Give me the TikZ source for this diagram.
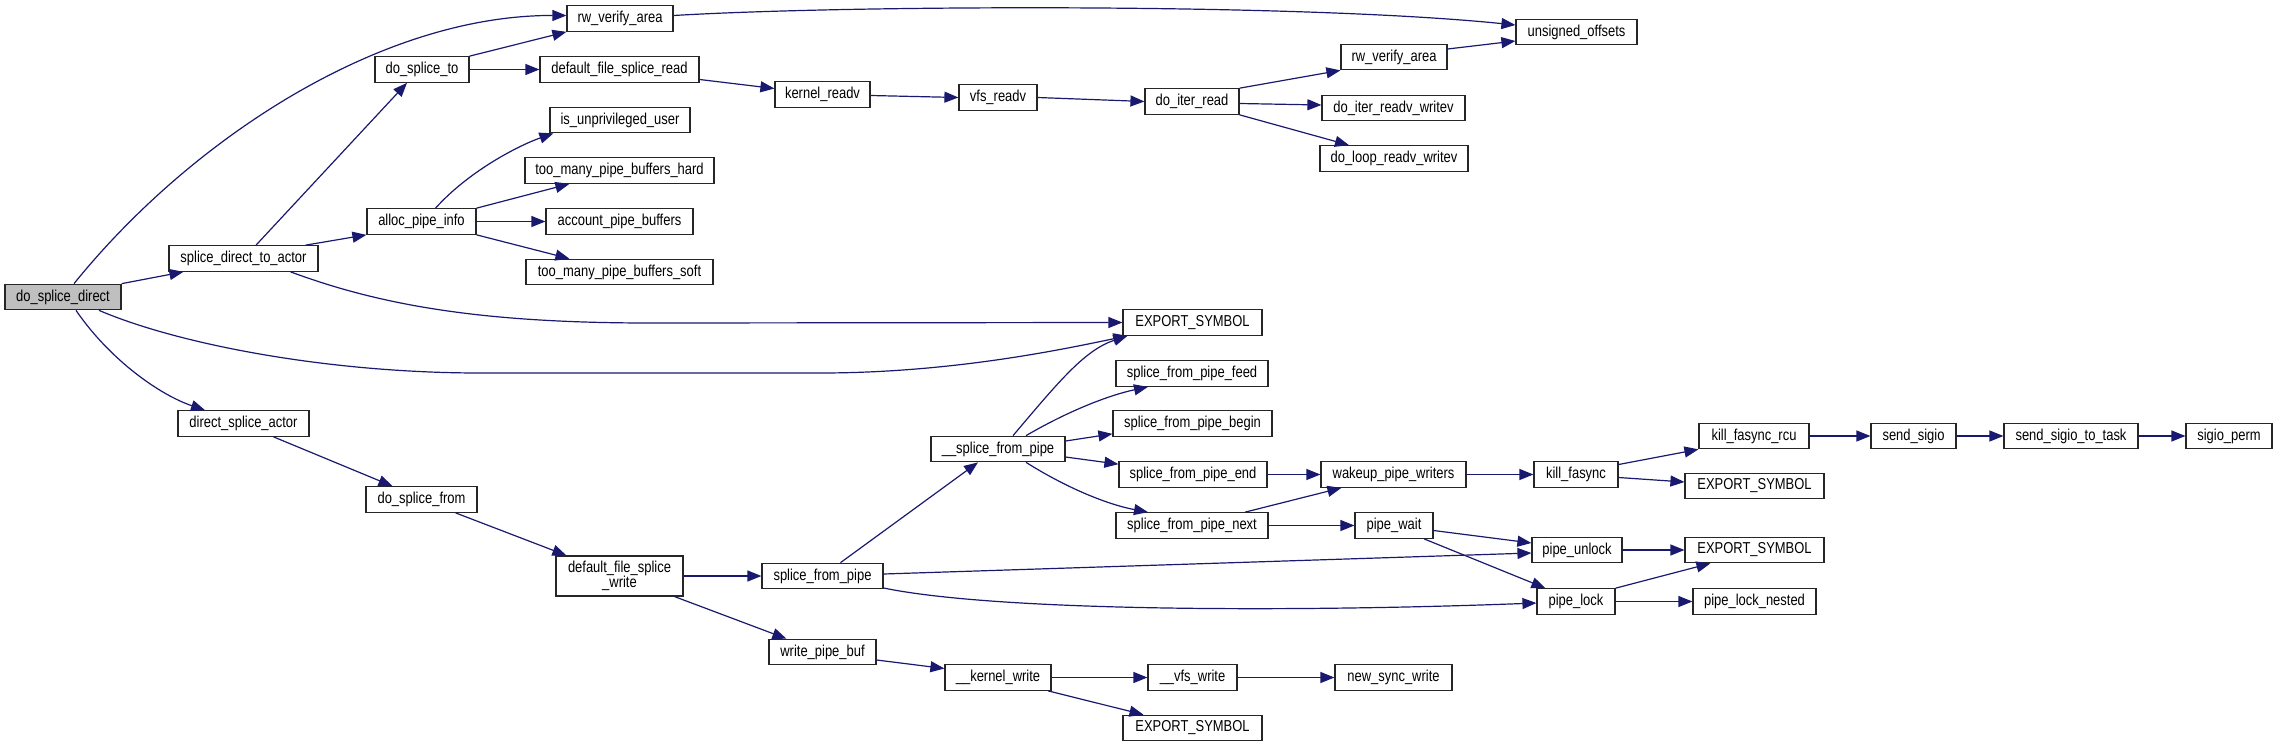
\documentclass[tikz,border=0pt]{standalone}
\usepackage{fontspec}
\setmainfont{Liberation Sans}[FakeStretch=0.82]
\usetikzlibrary{arrows.meta}
\definecolor{edgeblue}{HTML}{191970}
\definecolor{rootgray}{HTML}{BFBFBF}
\newcommand\fnfont{\fontsize{15.8}{15}\selectfont}
\tikzset{
  fn/.style={draw=black!85, line width=1.2pt, fill=white, minimum height=25.5pt, inner sep=0pt, font=\fnfont},
  call/.style={draw=edgeblue, line width=1.2pt, -{Triangle[length=14pt,width=11pt]}, fill=none},
}
\begin{document}
\begin{tikzpicture}[x=1pt,y=-1pt]
\useasboundingbox[fill=white] (0,0) rectangle (2277,747);
% nodes
\node[fn, minimum width=116pt, fill=rootgray] (dsd) at (63,297) {do\_splice\_direct};
\node[fn, minimum width=149pt] (sdta) at (243.5,258.5) {splice\_direct\_to\_actor};
\node[fn, minimum width=94pt] (dst) at (422,69.5) {do\_splice\_to};
\node[fn, minimum width=106pt] (rwva1) at (620,18.5) {rw\_verify\_area};
\node[fn, minimum width=159pt] (dfsr) at (619.5,69.5) {default\_file\_splice\_read};
\node[fn, minimum width=140pt] (iuu) at (620,120) {is\_unprivileged\_user};
\node[fn, minimum width=189pt] (tmpbh) at (619.5,170.5) {too\_many\_pipe\_buffers\_hard};
\node[fn, minimum width=147pt] (apb) at (619.5,221.5) {account\_pipe\_buffers};
\node[fn, minimum width=187pt] (tmpbs) at (619.5,272) {too\_many\_pipe\_buffers\_soft};
\node[fn, minimum width=109pt] (api) at (421.5,221.5) {alloc\_pipe\_info};
\node[fn, minimum width=139pt] (es1) at (1192.5,322.5) {EXPORT\_SYMBOL};
\node[fn, minimum width=95pt] (krv) at (822.5,94.5) {kernel\_readv};
\node[fn, minimum width=78pt] (vrv) at (998,97.5) {vfs\_readv};
\node[fn, minimum width=94pt] (dir) at (1192,101.5) {do\_iter\_read};
\node[fn, minimum width=106pt] (rwva2) at (1394,57) {rw\_verify\_area};
\node[fn, minimum width=143pt] (dirw) at (1393.5,108) {do\_iter\_readv\_writev};
\node[fn, minimum width=148pt] (dlrw) at (1394,158.5) {do\_loop\_readv\_writev};
\node[fn, minimum width=121pt] (uo) at (1576.5,32) {unsigned\_offsets};
\node[fn, minimum width=131pt] (dsa) at (243.5,423.5) {direct\_splice\_actor};
\node[fn, minimum width=111pt] (dsf) at (421.5,499.5) {do\_splice\_from};
\node[fn, minimum width=127pt, minimum height=40pt, align=center] (dfsw) at (619.5,576) {default\_file\_splice\\\_write};
\node[fn, minimum width=152pt] (sfpf) at (1192,373.5) {splice\_from\_pipe\_feed};
\node[fn, minimum width=159pt] (sfpb) at (1192.5,423.5) {splice\_from\_pipe\_begin};
\node[fn, minimum width=134pt] (usfp) at (998,449) {\_\_splice\_from\_pipe};
\node[fn, minimum width=148pt] (sfpe) at (1193,474.5) {splice\_from\_pipe\_end};
\node[fn, minimum width=145pt] (wpw) at (1393.5,474.5) {wakeup\_pipe\_writers};
\node[fn, minimum width=152pt] (sfpn) at (1192,525.5) {splice\_from\_pipe\_next};
\node[fn, minimum width=78pt] (pw) at (1394,525.5) {pipe\_wait};
\node[fn, minimum width=121pt] (sfp) at (822.5,576) {splice\_from\_pipe};
\node[fn, minimum width=107pt] (wpb) at (822.5,652) {write\_pipe\_buf};
\node[fn, minimum width=106pt] (kw) at (998,677.5) {\_\_kernel\_write};
\node[fn, minimum width=89pt] (vw) at (1192.5,677.5) {\_\_vfs\_write};
\node[fn, minimum width=117pt] (nsw) at (1393.5,677.5) {new\_sync\_write};
\node[fn, minimum width=139pt] (es4) at (1192.5,728) {EXPORT\_SYMBOL};
\node[fn, minimum width=110pt] (kfr) at (1754,436) {kill\_fasync\_rcu};
\node[fn, minimum width=85pt] (ss) at (1913.5,436) {send\_sigio};
\node[fn, minimum width=134pt] (sstt) at (2071,436) {send\_sigio\_to\_task};
\node[fn, minimum width=86pt] (sp) at (2229,436) {sigio\_perm};
\node[fn, minimum width=84pt] (kf) at (1576,474.5) {kill\_fasync};
\node[fn, minimum width=139pt] (es2) at (1754.5,486) {EXPORT\_SYMBOL};
\node[fn, minimum width=90pt] (pu) at (1577,550) {pipe\_unlock};
\node[fn, minimum width=139pt] (es3) at (1754.5,550) {EXPORT\_SYMBOL};
\node[fn, minimum width=78pt] (pl) at (1576,601.5) {pipe\_lock};
\node[fn, minimum width=123pt] (pln) at (1754.5,601.5) {pipe\_lock\_nested};
% edges
\draw[call] ([xshift=11pt]dsd.north) .. controls (190,140) and (380,15) .. ([yshift=3pt]rwva1.west);
\draw[call] (dsd.north east) -- ([xshift=15pt]sdta.south west);
\draw[call] ([xshift=36pt]dsd.south) .. controls (180,345) and (330,373) .. (480,373) -- (820,373) .. controls (950,373) and (1060,350) .. ([xshift=5pt]es1.south west);
\draw[call] ([xshift=13pt]dsd.south) .. controls (110,360) and (160,395) .. ([xshift=-38.5pt]dsa.north);
\draw[call] ([xshift=12.5pt]sdta.north) -- ([xshift=-15pt]dst.south);
\draw[call] ([xshift=62pt]sdta.north) -- (api.south west);
\draw[call] ([xshift=47pt]sdta.south) .. controls (380,305) and (480,323) .. (650,323) -- (es1.west);
\draw[call] (dst.north east) -- (rwva1.south west);
\draw[call] (dst.east) -- (dfsr.west);
\draw[call] ([yshift=3pt]rwva1.east) .. controls (850,5) and (1300,3) .. ([yshift=7pt]uo.west);
\draw[call] ([yshift=-10pt]dfsr.east) -- ([yshift=6pt]krv.west);
\draw[call] ([yshift=-1pt]krv.east) -- (vrv.west);
\draw[call] (vrv.east) -- (dir.west);
\draw[call] (dir.north east) -- (rwva2.south west);
\draw[call] ([yshift=-2pt]dir.east) -- ([yshift=3pt]dirw.west);
\draw[call] (dir.south east) -- ([xshift=-45pt]dlrw.north);
\draw[call] ([yshift=8pt]rwva2.east) -- ([yshift=-9pt]uo.west);
\draw[call] ([xshift=14pt]api.north) .. controls (470,170) and (520,145) .. ([xshift=4pt]iuu.south west);
\draw[call] (api.north east) -- ([xshift=45pt]tmpbh.south west);
\draw[call] (api.east) -- (apb.west);
\draw[call] (api.south east) -- ([xshift=44pt]tmpbs.north west);
\draw[call] ([xshift=30pt]dsa.south) -- ([xshift=-29pt]dsf.north);
\draw[call] ([xshift=34pt]dsf.south) -- ([xshift=11pt]dfsw.north west);
\draw[call] (dfsw.east) -- (sfp.west);
\draw[call] ([xshift=-9pt]dfsw.south east) -- ([xshift=18pt]wpb.north west);
\draw[call] ([xshift=18pt]sfp.north) -- ([xshift=-20pt]usfp.south);
\draw[call] ([yshift=2pt]sfp.east) -- ([yshift=-3pt]pu.west);
\draw[call] ([yshift=-12pt]sfp.east) .. controls (1000,612) and (1300,612) .. ([yshift=-1.5pt]pl.west);
\draw[call] ([xshift=15pt]usfp.north) .. controls (1060,380) and (1085,350) .. ([xshift=5pt]es1.south west);
\draw[call] ([xshift=28pt]usfp.north) .. controls (1070,410) and (1110,395) .. ([xshift=-44pt]sfpf.south);
\draw[call] ([yshift=8pt]usfp.east) -- ([yshift=3pt]sfpb.south west);
\draw[call] ([yshift=-8pt]usfp.east) -- ([yshift=-3pt]sfpe.north west);
\draw[call] ([xshift=28pt]usfp.south) .. controls (1070,490) and (1110,505) .. ([xshift=-44pt]sfpn.north);
\draw[call] (sfpe.east) -- (wpw.west);
\draw[call] ([xshift=53pt]sfpn.north) -- ([xshift=21pt]wpw.south west);
\draw[call] (sfpn.east) -- (pw.west);
\draw[call] ([yshift=-5pt]pw.east) -- ([yshift=7pt]pu.west);
\draw[call] ([xshift=30pt]pw.south) -- ([xshift=9pt]pl.north west);
\draw[call] (wpw.east) -- (kf.west);
\draw[call] ([yshift=10pt]kf.east) -- (kfr.south west);
\draw[call] ([yshift=-3pt]kf.east) -- ([yshift=4pt]es2.west);
\draw[call] (kfr.east) -- (ss.west);
\draw[call] (ss.east) -- (sstt.west);
\draw[call] (sstt.east) -- (sp.west);
\draw[call] (pu.east) -- (es3.west);
\draw[call] (pl.north east) -- ([xshift=26pt]es3.south west);
\draw[call] (pl.east) -- (pln.west);
\draw[call] ([yshift=-8pt]wpb.east) -- ([yshift=9pt]kw.west);
\draw[call] (kw.east) -- (vw.west);
\draw[call] ([xshift=50pt]kw.south) -- ([xshift=-49pt]es4.north);
\draw[call] (vw.east) -- (nsw.west);
\end{tikzpicture}
\end{document}
